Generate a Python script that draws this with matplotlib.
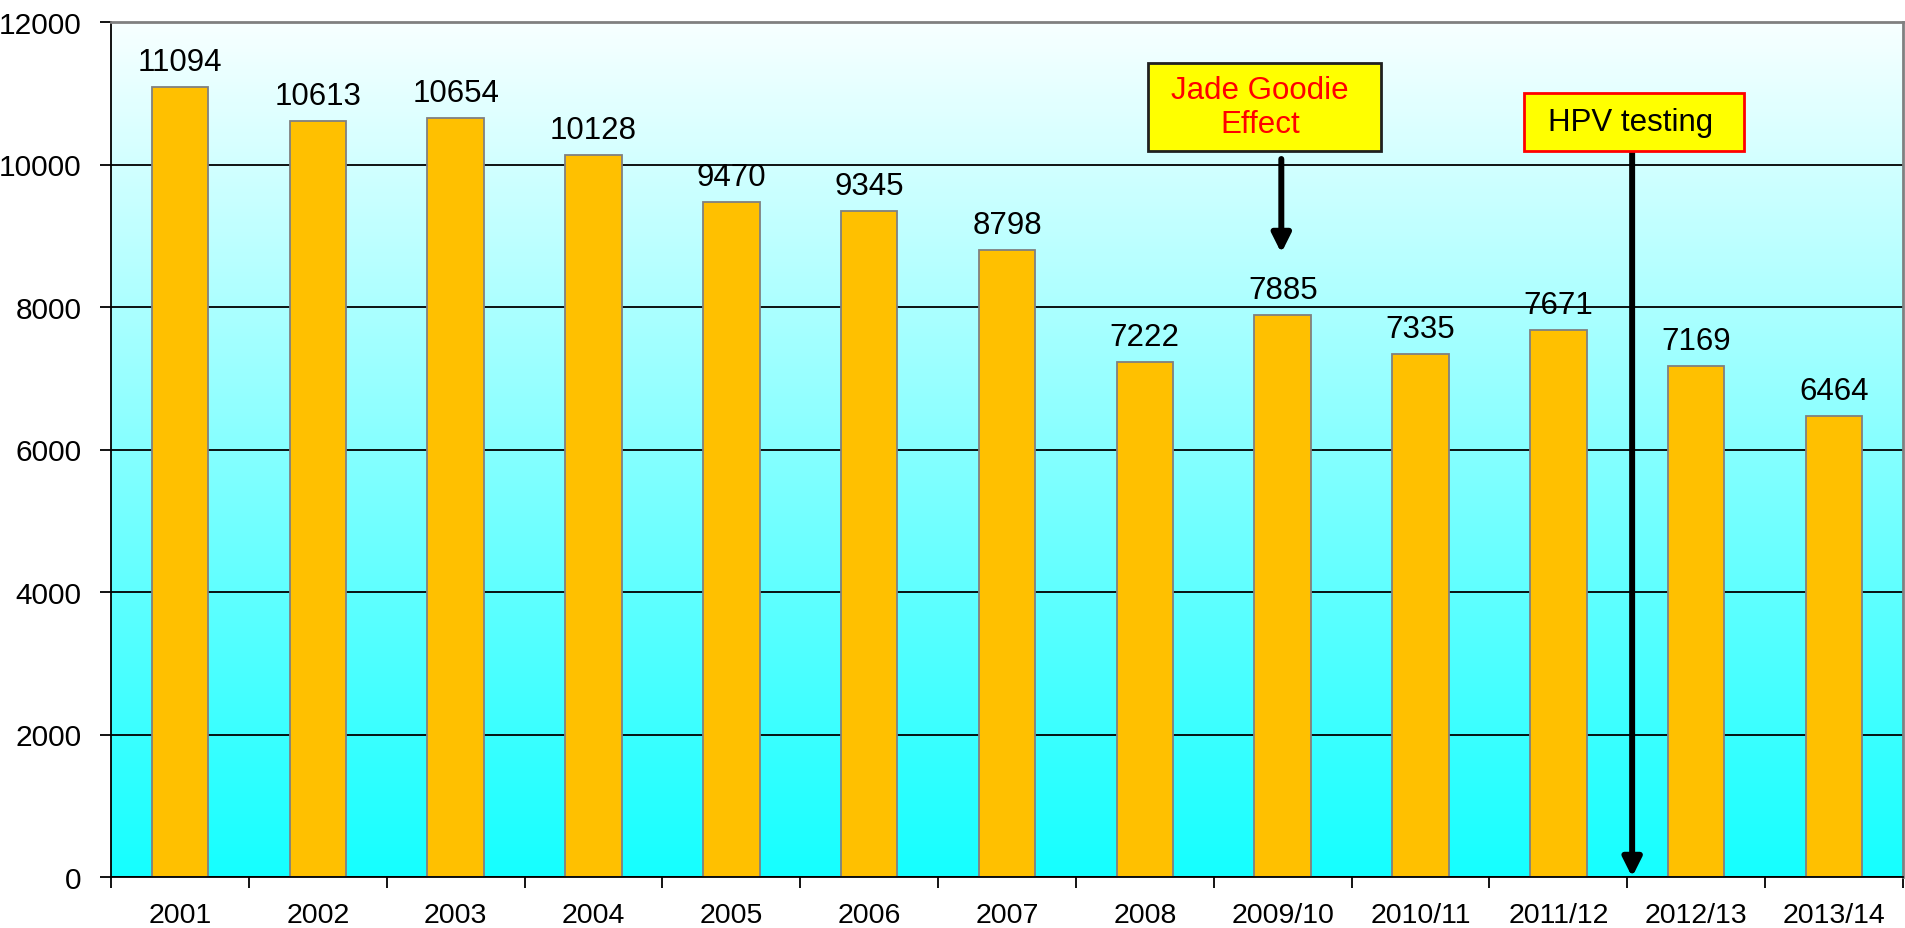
import numpy as np
import matplotlib
matplotlib.use("Agg")
import matplotlib.pyplot as plt
from matplotlib.patches import Rectangle

plt.rcParams['font.family'] = ['Liberation Sans', 'DejaVu Sans']

years = ["2001", "2002", "2003", "2004", "2005", "2006", "2007", "2008",
         "2009/10", "2010/11", "2011/12", "2012/13", "2013/14"]
counts = [11094, 10613, 10654, 10128, 9470, 9345, 8798, 7222,
          7885, 7335, 7671, 7169, 6464]
y_ticks = [0, 2000, 4000, 6000, 8000, 10000, 12000]

# callouts: text, box (x0, x1, y0, y1), arrow (x, y_from, y_to)
jade_text = "Jade Goodie\nEffect"
jade_box = (7.02, 8.71, 10189, 11425)
jade_arrow = (7.99, 10077, 8758)
hpv_text = "HPV testing"
hpv_box = (9.75, 11.35, 10189, 11004)
hpv_arrow = (10.535, 10161, 0)

fig = plt.figure(figsize=(19.05, 9.29), dpi=100)
ax = fig.add_axes([111 / 1905, 51 / 929, 1792 / 1905, 855 / 929])

# background gradient, light at the top and cyan at the bottom
grad = np.linspace(0, 1, 256).reshape(-1, 1)
top = np.array([0.97, 1.0, 1.0])
bottom = np.array([0.08, 1.0, 1.0])
img = top[None, None, :] * (1 - grad[:, :, None]) + bottom[None, None, :] * grad[:, :, None]
ax.imshow(img, extent=[0, 1, 0, 1], transform=ax.transAxes, aspect='auto', zorder=0)

x = np.arange(len(years))
ax.bar(x, counts, width=0.41, color='#FFC000', edgecolor='#808080', linewidth=1.3, zorder=2)
for xi, v in zip(x, counts):
    ax.annotate(str(v), (xi, v), xytext=(0, 12.2), textcoords='offset points',
                ha='center', va='baseline', fontsize=22.5, zorder=3)

ax.set_xlim(-0.5, len(years) - 0.5)
ax.set_ylim(0, 12000)
ax.set_yticks(y_ticks)
ax.set_yticklabels([str(t) for t in y_ticks])
ax.set_xticks(np.arange(-0.5, len(years)), labels=[""] * (len(years) + 1))
ax.set_xticks(x, labels=years, minor=True)
ax.tick_params(axis='x', which='major', direction='out', length=7.7, width=1.3)
ax.tick_params(axis='x', which='minor', length=0, pad=18, labelsize=20.5)
ax.tick_params(axis='y', direction='out', length=7.7, width=1.3, pad=13.5, labelsize=21.5)

ax.yaxis.grid(True, color='black', linewidth=1.3)
ax.set_axisbelow(True)
for side in ['left', 'bottom']:
    ax.spines[side].set_color('black')
    ax.spines[side].set_linewidth(1.3)
for side in ['top', 'right']:
    ax.spines[side].set_color('#808080')
    ax.spines[side].set_linewidth(2)

# callout boxes and arrows
for text, box, arrow, tcolor, ecolor in [
        (jade_text, jade_box, jade_arrow, 'red', '#202020'),
        (hpv_text, hpv_box, hpv_arrow, 'black', 'red')]:
    x0, x1, y0, y1 = box
    ax.add_patch(Rectangle((x0, y0), x1 - x0, y1 - y0, facecolor='yellow',
                           edgecolor=ecolor, linewidth=2, zorder=5, clip_on=False))
    ax.text((x0 + x1) / 2 - 0.03, (y0 + y1) / 2, text, ha='center', va='center',
            fontsize=22.5, color=tcolor, linespacing=1.16, zorder=6)
    ax_x, ay0, ay1 = arrow
    ax.annotate('', xy=(ax_x, ay1), xytext=(ax_x, ay0),
                arrowprops=dict(arrowstyle='-|>', lw=4.3, color='black',
                                mutation_scale=28, shrinkA=0, shrinkB=0),
                zorder=4)

fig.savefig("out.png", dpi=100)
